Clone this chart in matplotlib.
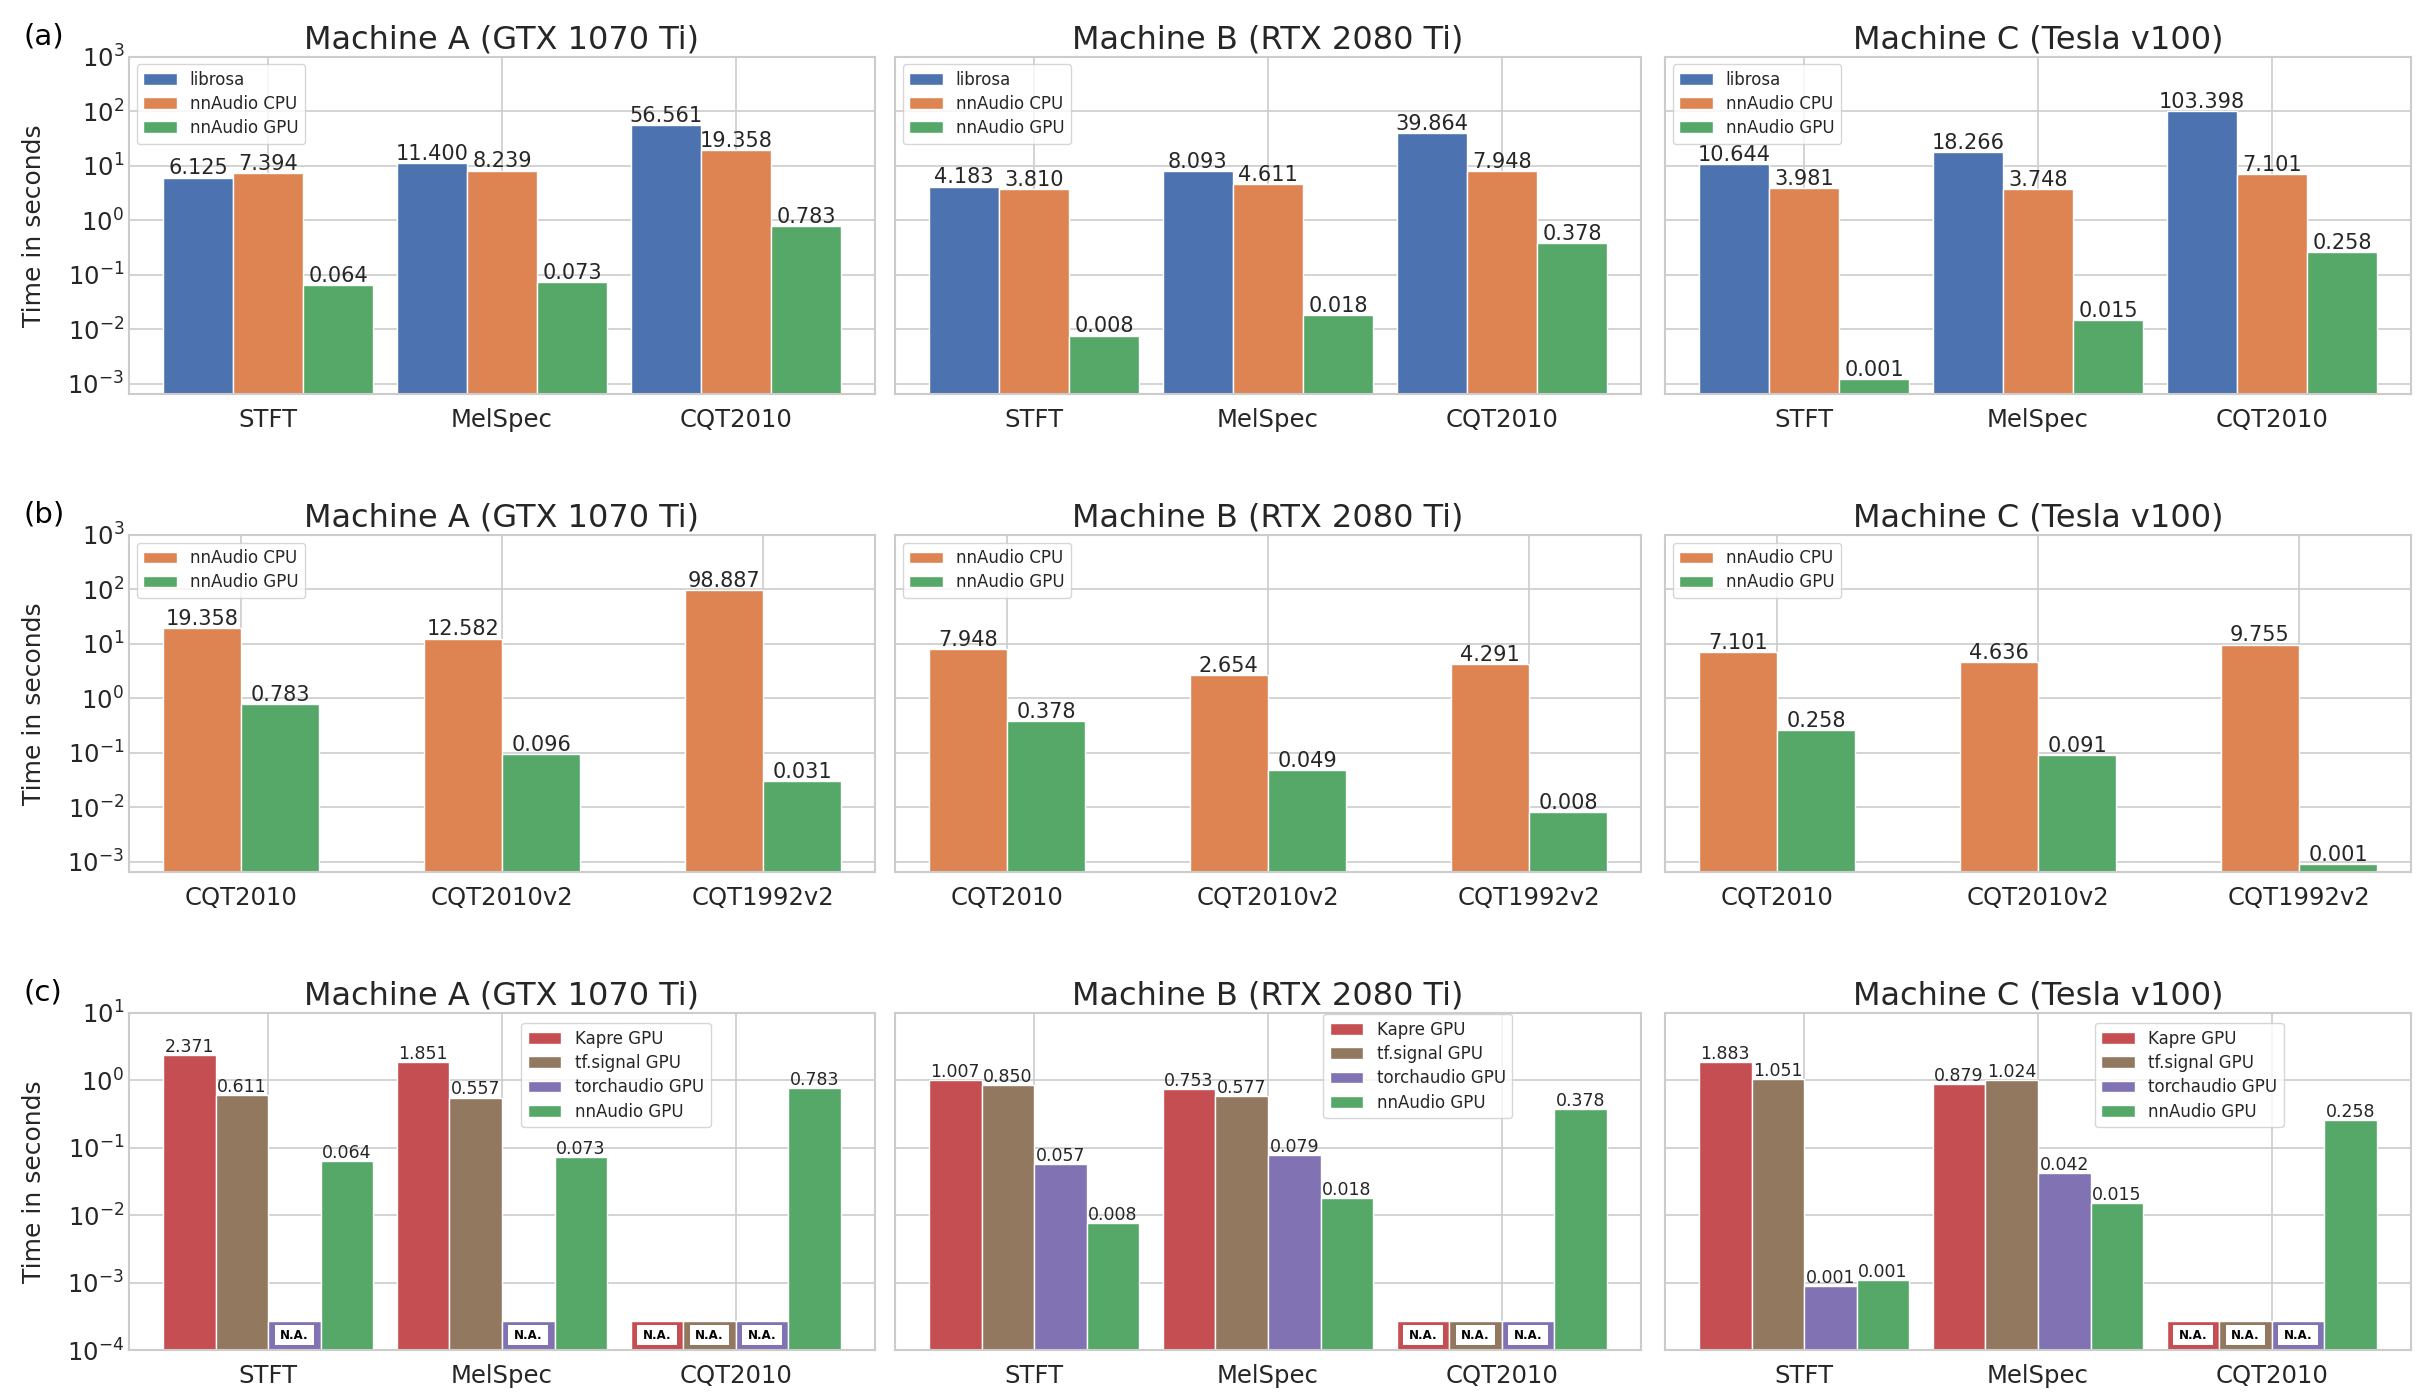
import numpy as np
import matplotlib
matplotlib.use("Agg")
import matplotlib.pyplot as plt
from matplotlib.patches import Patch
import seaborn as sns

# ---------------- data ----------------
machines = ["Machine A (GTX 1070 Ti)", "Machine B (RTX 2080 Ti)", "Machine C (Tesla v100)"]
panel_tags = ["(a)", "(b)", "(c)"]

# row (a)
cats_a = ["STFT", "MelSpec", "CQT2010"]
series_a = ["librosa", "nnAudio CPU", "nnAudio GPU"]
a_librosa = [[6.125, 11.400, 56.561], [4.183, 8.093, 39.864], [10.644, 18.266, 103.398]]
a_nn_cpu = [[7.394, 8.239, 19.358], [3.810, 4.611, 7.948], [3.981, 3.748, 7.101]]
a_nn_gpu = [[0.064, 0.073, 0.783], [0.0077, 0.018, 0.378], [0.0012, 0.015, 0.258]]

# row (b)
cats_b = ["CQT2010", "CQT2010v2", "CQT1992v2"]
series_b = ["nnAudio CPU", "nnAudio GPU"]
b_nn_cpu = [[19.358, 12.582, 98.887], [7.948, 2.654, 4.291], [7.101, 4.636, 9.755]]
b_nn_gpu = [[0.783, 0.096, 0.031], [0.378, 0.049, 0.0081], [0.258, 0.091, 0.0009]]

# row (c)  (None = N.A.)
cats_c = ["STFT", "MelSpec", "CQT2010"]
series_c = ["Kapre GPU", "tf.signal GPU", "torchaudio GPU", "nnAudio GPU"]
c_kapre = [[2.371, 1.851, None], [1.007, 0.753, None], [1.883, 0.879, None]]
c_tfsignal = [[0.611, 0.557, None], [0.850, 0.577, None], [1.051, 1.024, None]]
c_torchaudio = [[None, None, None], [0.057, 0.079, None], [0.0009, 0.042, None]]
c_nn_gpu = [[0.064, 0.073, 0.783], [0.0077, 0.018, 0.378], [0.0011, 0.015, 0.258]]

# ---------------- style ----------------
sns.set_style("whitegrid")
plt.rcParams["font.family"] = ["DejaVu Sans"]
plt.rcParams["axes.edgecolor"] = "0.8"
plt.rcParams["grid.color"] = "0.8"

deep = sns.color_palette("deep")
C_BLUE, C_ORANGE, C_GREEN, C_RED, C_PURPLE, C_BROWN = deep[0], deep[1], deep[2], deep[3], deep[4], deep[5]
TXT = "0.15"

fig = plt.figure(figsize=(24.31, 14), dpi=100)
W, H = 2431.0, 1400.0
col_left = [129, 895, 1665]
col_w = 746
row_top = [57, 535, 1013]
row_h = 337

rows = [
    dict(cats=cats_a, names=series_a, data=[a_librosa, a_nn_cpu, a_nn_gpu],
         colors=[C_BLUE, C_ORANGE, C_GREEN], width=0.3, ylim=(6.5e-4, 1e3),
         yticks=[1e-3, 1e-2, 1e-1, 1e0, 1e1, 1e2, 1e3], vfs=15),
    dict(cats=cats_b, names=series_b, data=[b_nn_cpu, b_nn_gpu],
         colors=[C_ORANGE, C_GREEN], width=0.3, ylim=(6.5e-4, 1e3),
         yticks=[1e-3, 1e-2, 1e-1, 1e0, 1e1, 1e2, 1e3], vfs=15),
    dict(cats=cats_c, names=series_c, data=[c_kapre, c_tfsignal, c_torchaudio, c_nn_gpu],
         colors=[C_RED, C_BROWN, C_PURPLE, C_GREEN], width=0.225, ylim=(1e-4, 1e1),
         yticks=[1e-4, 1e-3, 1e-2, 1e-1, 1e0, 1e1], vfs=12.5),
]
legend_c_anchor = [(0.526, 0.97), (0.574, 0.997), (0.576, 0.97)]

NA_TOP = 2.69e-4      # outer N.A. box top (row c)
NA_IN = (1.19e-4, 2.34e-4)
NA_IN_FRAC = 0.755

for r, spec in enumerate(rows):
    n = len(spec["data"])
    w = spec["width"]
    x = np.arange(len(spec["cats"]))
    ymin, ymax = spec["ylim"]
    for m in range(3):
        ax = fig.add_axes([col_left[m] / W, 1 - (row_top[r] + row_h) / H, col_w / W, row_h / H])
        ax.set_yscale("log")
        ax.set_ylim(ymin, ymax)
        for i in range(n):
            off = (i - (n - 1) / 2.0) * w
            vals = spec["data"][i][m]
            for j, v in enumerate(vals):
                xc = x[j] + off
                if v is None:
                    ax.bar(xc, NA_TOP - ymin, bottom=ymin, width=w, color=spec["colors"][i],
                           edgecolor="white", linewidth=1, zorder=2)
                    ax.bar(xc, NA_IN[1] - NA_IN[0], bottom=NA_IN[0], width=w * NA_IN_FRAC,
                           color="white", linewidth=0, zorder=3)
                    ax.text(xc, np.sqrt(NA_IN[0] * NA_IN[1]), "N.A.", ha="center", va="center",
                            fontsize=8.5, fontweight="bold", color="black", zorder=4)
                else:
                    ax.bar(xc, v - ymin, bottom=ymin, width=w, color=spec["colors"][i],
                           edgecolor="white", linewidth=1, zorder=2)
                    ax.annotate("{:.3f}".format(v), (xc, v), xytext=(0, 2.2),
                                textcoords="offset points", ha="center", va="baseline",
                                fontsize=spec["vfs"], color=TXT, zorder=5)
        span = n * w
        lo, hi = -span / 2.0, x[-1] + span / 2.0
        pad = 0.05 * (hi - lo)
        ax.set_xlim(lo - pad, hi + pad)
        ax.set_xticks(x)
        ax.set_xticklabels(spec["cats"], fontsize=17.5, color=TXT)
        ax.set_yticks(spec["yticks"])
        ax.yaxis.set_minor_locator(matplotlib.ticker.NullLocator())
        ax.tick_params(axis="y", labelsize=17.5, labelcolor=TXT)
        ax.tick_params(axis="both", length=0)
        ax.tick_params(axis="x", pad=10)
        if m == 0:
            ax.set_ylabel("Time in seconds", fontsize=18, color=TXT, labelpad=15)
        else:
            ax.tick_params(labelleft=False)
        ax.set_title(machines[m], fontsize=23, color=TXT, pad=6)
        for s in ax.spines.values():
            s.set_color("0.8")
            s.set_linewidth(1.5)
        ax.grid(True, color="0.8", linewidth=1.2)
        handles = [Patch(facecolor=c, edgecolor="white", label=lab)
                   for c, lab in zip(spec["colors"], spec["names"])]
        if r < 2:
            leg = ax.legend(handles=handles, loc="upper left", fontsize=12, frameon=True,
                            labelspacing=0.36, borderaxespad=0.45)
        else:
            leg = ax.legend(handles=handles, loc="upper left", bbox_to_anchor=legend_c_anchor[m],
                            borderaxespad=0, fontsize=12, frameon=True, labelspacing=0.38)
        leg.get_frame().set_edgecolor("0.8")
        leg.set_zorder(10)

for r, tag in enumerate(panel_tags):
    fig.text(24 / W, 1 - (row_top[r] - 34) / H, tag, fontsize=21, color="black", va="top", ha="left")

fig.savefig("out.png", dpi=100)
